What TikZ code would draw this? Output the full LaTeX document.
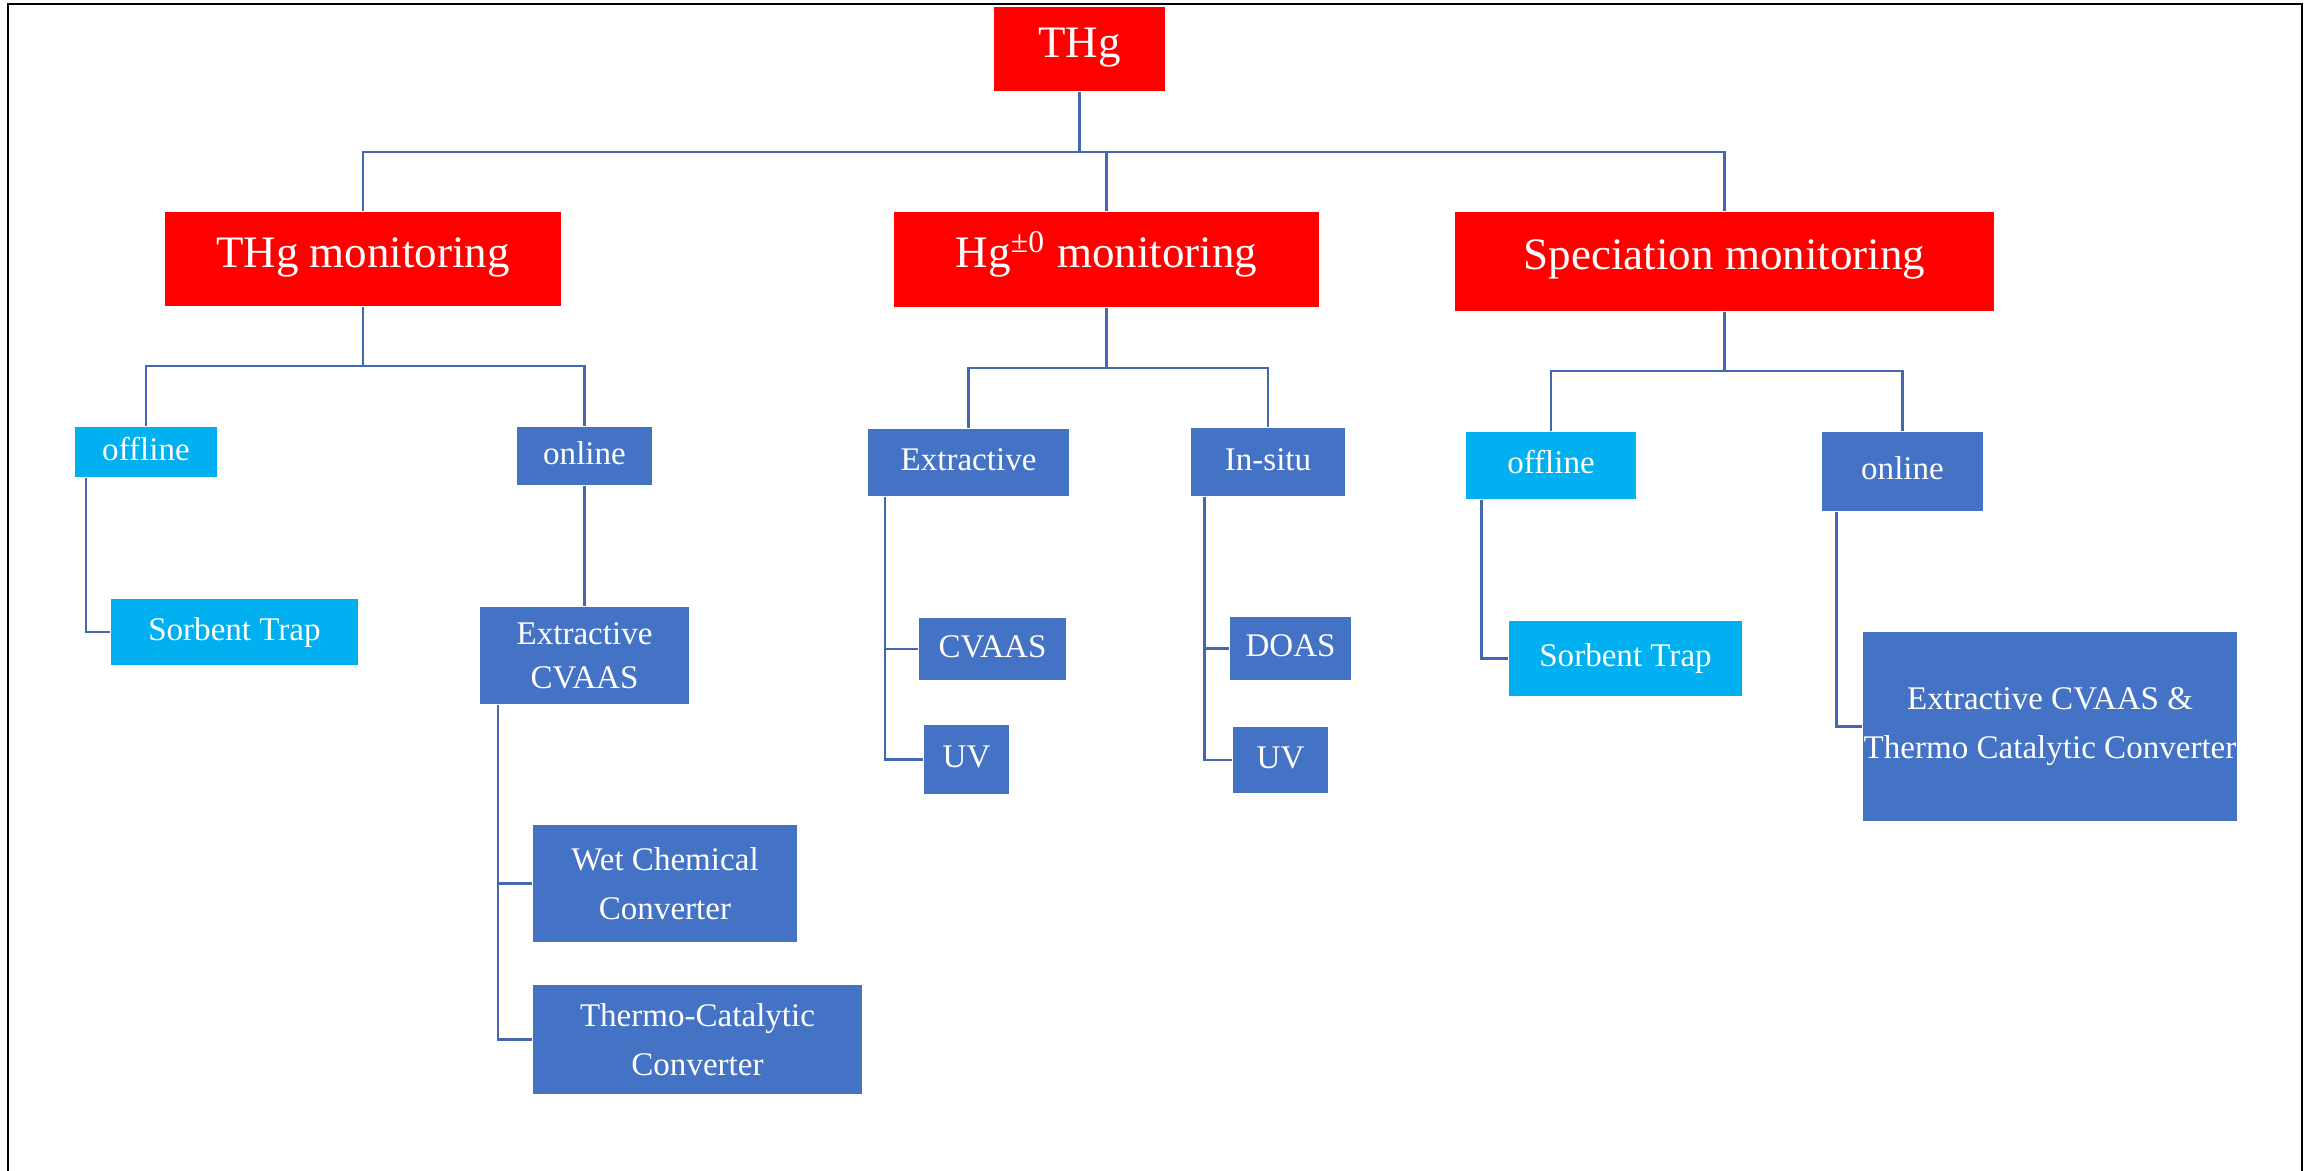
\documentclass[tikz,border=0pt]{standalone}
\usepackage{fontspec}
\setmainfont{Liberation Serif}
\definecolor{hgred}{HTML}{FF0000}
\definecolor{hgblue}{HTML}{4472C4}
\definecolor{hgcyan}{HTML}{00B0F0}
\definecolor{hgline}{HTML}{4468B0}
\begin{document}
\begin{tikzpicture}[x=0.01cm,y=-0.01cm,
  box/.style={inner sep=0pt, text=white, align=center},
  word/.style={text height=0.7em, text depth=0.22em},
  redbox/.style={box, fill=hgred, font=\fontsize{12.8}{15}\selectfont},
  bluebox/.style={box, fill=hgblue, font=\fontsize{9.4}{13.9}\selectfont},
  cyanbox/.style={box, fill=hgcyan, font=\fontsize{9.4}{13.9}\selectfont},
  conn/.style={draw=hgline, line width=0.7pt}]
  \useasboundingbox (0,0) rectangle (2306,1171);
  \draw[line width=0.7pt] (8,1171) -- (8,4) -- (2302,4) -- (2302,1171);

  % top levels
  \node[redbox, word, minimum width=1.71cm, minimum height=0.84cm] (thg) at (1079.5,49) {THg};
  \node[redbox, word, minimum width=3.96cm, minimum height=0.94cm] (thgmon) at (363,259) {THg monitoring};
  \node[redbox, word, minimum width=4.25cm, minimum height=0.95cm] (hgmon) at (1106.5,259.5) {Hg\textsuperscript{±0} monitoring};
  \node[redbox, word, minimum width=5.39cm, minimum height=0.99cm] (specmon) at (1724.5,261.5) {Speciation monitoring};

  % methods
  \node[cyanbox, word, minimum width=1.42cm, minimum height=0.50cm] (off1) at (146,452) {offline};
  \node[bluebox, word, minimum width=1.35cm, minimum height=0.58cm] (on1) at (584.5,456) {online};
  \node[bluebox, word, minimum width=2.01cm, minimum height=0.67cm] (extr) at (968.5,462.5) {Extractive};
  \node[bluebox, word, minimum width=1.54cm, minimum height=0.68cm] (insitu) at (1268,462) {In-situ};
  \node[cyanbox, word, minimum width=1.70cm, minimum height=0.67cm] (off2) at (1551,465.5) {offline};
  \node[bluebox, word, minimum width=1.61cm, minimum height=0.79cm] (on2) at (1902.5,471.5) {online};

  % techniques
  \node[cyanbox, word, minimum width=2.47cm, minimum height=0.66cm] (sorb1) at (234.5,632) {Sorbent Trap};
  \node[bluebox, minimum width=2.09cm, minimum height=0.97cm, font=\fontsize{9.4}{12.5}\selectfont] (excv) at (584.5,655.5) {Extractive\\CVAAS};
  \node[bluebox, minimum width=2.64cm, minimum height=1.17cm] (wet) at (665,883.5) {Wet Chemical\\Converter};
  \node[bluebox, minimum width=3.29cm, minimum height=1.09cm] (thermo) at (697.5,1039.5) {Thermo-Catalytic\\Converter};
  \node[bluebox, word, minimum width=1.47cm, minimum height=0.62cm] (cvaas) at (992.5,649) {CVAAS};
  \node[bluebox, word, minimum width=0.85cm, minimum height=0.69cm] (uv1) at (966.5,759.5) {UV};
  \node[bluebox, word, minimum width=1.21cm, minimum height=0.63cm] (doas) at (1290.5,648.5) {DOAS};
  \node[bluebox, word, minimum width=0.95cm, minimum height=0.66cm] (uv2) at (1280.5,760) {UV};
  \node[cyanbox, word, minimum width=2.33cm, minimum height=0.75cm] (sorb2) at (1625.5,658.5) {Sorbent Trap};
  \node[bluebox, minimum width=3.74cm, minimum height=1.89cm] (excvtc) at (2050,726.5) {Extractive CVAAS \&\\Thermo Catalytic Converter};

  % tree lines
  \coordinate (b0) at (0,152);
  \draw[conn] (thg) -- (thg |- b0);
  \draw[conn] (thgmon) |- (specmon |- b0) -- (specmon);
  \draw[conn] (hgmon) -- (hgmon |- b0);
  \foreach \p/\l/\r/\y in {thgmon/off1/on1/366, hgmon/extr/insitu/368, specmon/off2/on2/371}
  {
    \draw[conn] (\p) -- (\p |- 0,\y);
    \draw[conn] (\l) |- (\r |- 0,\y) -- (\r);
  }
  \draw[conn] (on1) -- (excv);
  \foreach \p/\d/\c in {off1/0.12/sorb1, excv/0.19/wet, excv/0.19/thermo, extr/0.18/cvaas, extr/0.18/uv1, insitu/0.14/doas, insitu/0.14/uv2, off2/0.16/sorb2, on2/0.15/excvtc}
  {
    \draw[conn] ([xshift=\d cm]\p.south west) |- (\c);
  }
\end{tikzpicture}
\end{document}
